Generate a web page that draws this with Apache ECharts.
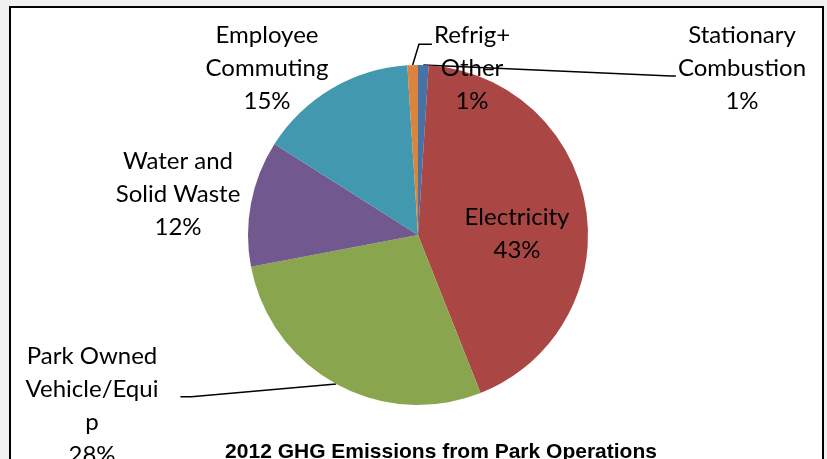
<!DOCTYPE html>
<html>
<head>
<meta charset="utf-8">
<script src="https://cdn.jsdelivr.net/npm/echarts@6/dist/echarts.min.js"></script>
<style>
  html, body { margin: 0; padding: 0; background: #f0f0f0; overflow: hidden; }
  #frame { position: absolute; left: 9px; top: 6px; width: 811px; height: 520px; border: 2px solid #000; background: #fff; }
  #chart { position: absolute; left: 0; top: 0; width: 827px; height: 459px; }
</style>
</head>
<body>
<div id="frame"></div>
<div id="chart"></div>
<script>
// ---- data ----
const categories = ['Stationary Combustion', 'Electricity', 'Park Owned Vehicle/Equip', 'Water and Solid Waste', 'Employee Commuting', 'Refrig+Other'];
const labelText = ['Stationary\nCombustion', 'Electricity', 'Park Owned\nVehicle/Equi\np', 'Water and\nSolid Waste', 'Employee\nCommuting', 'Refrig+\nOther'];
const values = [1, 43, 28, 12, 15, 1];
const titleText = '2012 GHG Emissions from Park Operations';

// ---- style / layout ----
const colors = ['#4572A7', '#AA4643', '#89A54E', '#71588F', '#4198AF', '#DB843D'];
const labelCenters = [[742, 68], [517, 234], [92, 406], [178, 194], [267, 68], [472, 68]];
const showLine = [true, false, true, false, false, true];

const chart = echarts.init(document.getElementById('chart'), null, { renderer: 'canvas' });

function lineFor(i, p0, rect) {
  if (i === 0) { // Stationary: line to left side, slightly below middle
    const end = [rect.x - 2, rect.y + rect.height * 0.58];
    return [p0, [end[0] - 5, end[1]], end];
  }
  if (i === 5) { // Refrig: line to left side near top
    const end = [rect.x - 2, rect.y + rect.height * 0.26];
    return [p0, [end[0] - 13, end[1]], end];
  }
  if (i === 2) { // Park owned: line to right side
    const end = [rect.x + rect.width + 22, rect.y + rect.height * 0.43];
    return [p0, [end[0] + 11, end[1]], end];
  }
  return null;
}

const data = categories.map((c, i) => ({
  name: c,
  value: values[i],
  itemStyle: { color: colors[i] },
  label: { show: true, position: i === 1 ? 'inside' : 'outside' },
  labelLine: { show: showLine[i] }
}));

chart.setOption({
  animation: false,
  title: {
    text: titleText,
    left: 436,
    top: 437,
    textAlign: 'center',
    textStyle: { fontFamily: 'Liberation Sans, Arial, sans-serif', fontWeight: 'bold', fontSize: 21, color: '#000' }
  },
  series: [{
    type: 'pie',
    center: [418, 235],
    radius: 170,
    startAngle: 90,
    clockwise: true,
    avoidLabelOverlap: false,
    data: data,
    itemStyle: { borderWidth: 0 },
    emphasis: { disabled: true },
    label: {
      formatter: p => labelText[p.dataIndex] + '\n' + p.value + '%',
      fontFamily: 'Lato, "Open Sans", sans-serif',
      fontSize: 24,
      lineHeight: 33,
      color: '#000',
      align: 'center'
    },
    labelLine: {
      lineStyle: { color: '#000', width: 1.5 },
      length: 20,
      length2: 10
    },
    labelLayout: function (params) {
      const i = params.dataIndex;
      const c = labelCenters[i];
      const w = params.labelRect.width, h = params.labelRect.height;
      const rect = { x: c[0] - w / 2, y: c[1] - h / 2, width: w, height: h };
      const out = { x: c[0], y: c[1], align: 'center', verticalAlign: 'middle' };
      if (showLine[i] && params.labelLinePoints) {
        const pts = lineFor(i, params.labelLinePoints[0], rect);
        if (pts) out.labelLinePoints = pts;
      }
      return out;
    }
  }]
});
</script>
</body>
</html>
